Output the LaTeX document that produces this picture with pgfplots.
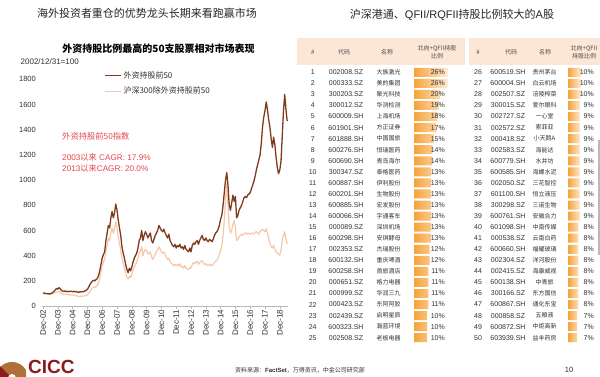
\documentclass[border=0pt]{standalone}
\usepackage{pgfplots}
\pgfplotsset{compat=1.18}
\usepackage{fontspec}
\setmainfont{Liberation Sans}
\newfontfamily\cjk{Noto Sans CJK SC}
\definecolor{darkbrown}{RGB}{128,58,28}
\definecolor{lightpeach}{RGB}{245,200,172}
\definecolor{annot}{RGB}{228,72,78}
\definecolor{hdr}{RGB}{252,230,214}
\definecolor{barL}{RGB}{245,163,58}
\definecolor{barR}{RGB}{255,238,215}
\definecolor{txt}{RGB}{50,50,50}
\definecolor{cicc}{RGB}{140,26,30}
\definecolor{ciccgold}{RGB}{176,112,58}
\begin{document}
\begin{tikzpicture}[x=1pt,y=-1pt]
\useasboundingbox (0,0) rectangle (600,376);
\clip (0,0) rectangle (600,376);
\fill[white] (0,0) rectangle (600,376);
% titles
\node[font=\cjk\fontsize{11}{13}\selectfont, text=black!85] at (147,13.5) {海外投资者重仓的优势龙头长期来看跑赢市场};
\node[font=\fontsize{11}{13}\selectfont, text=black!85] at (452,15) {{\cjk 沪深港通、}QFII/RQFII{\cjk 持股比例较大的}A{\cjk 股}};
\node[font=\cjk\bfseries\fontsize{10}{12}\selectfont, text=black] at (158.5,48.5) {外资持股比例最高的50支股票相对市场表现};
\node[anchor=west, font=\fontsize{8}{9}\selectfont, text=txt, inner sep=0pt] at (20.5,62) {2002/12/31=100};
% annotation
\node[anchor=west, text=annot, font=\cjk\fontsize{8.3}{10}\selectfont, inner sep=0pt] at (62,136) {外资持股前50指数};
\node[anchor=west, text=annot, font=\fontsize{8.2}{10}\selectfont, inner sep=0pt] at (62,157) {2003{\cjk 以来} CAGR: 17.9\%};
\node[anchor=west, text=annot, font=\fontsize{8.2}{10}\selectfont, inner sep=0pt] at (62,168) {2013{\cjk 以来}CAGR: 20.0\%};
% line chart
\begin{axis}[
  at={(41.8pt,-306pt)}, anchor=south west,
  scale only axis, width=246pt, height=226.7pt,
  xmin=-1, xmax=198.5, ymin=0, ymax=1800,
  axis lines*=left,
  y axis line style={draw=none},
  x axis line style={draw=gray!55},
  ytick={0,200,...,1800},
  ytick style={draw=none},
  xtick={0,12,...,192},
  xticklabels={Dec-02,Dec-03,Dec-04,Dec-05,Dec-06,Dec-07,Dec-08,Dec-09,Dec-10,Dec-11,Dec-12,Dec-13,Dec-14,Dec-15,Dec-16,Dec-17,Dec-18},
  xtick style={draw=gray!55, thin},
  tick align=outside, major tick length=2.5pt,
  /pgf/number format/assume math mode=true,
  /pgf/number format/1000 sep={},
  yticklabel style={font=\fontsize{7.5}{9}\selectfont, text=txt},
  xticklabel style={rotate=90, anchor=east, font=\fontsize{8}{9}\selectfont, text=txt, inner sep=1pt},
  legend style={at={(0.253,1.045)}, anchor=north west, draw=none, fill=none, font=\cjk\fontsize{8}{9}\selectfont, row sep=3.5pt, inner sep=0pt, cells={anchor=west, text=txt}},
  legend image code/.code={\draw[#1] (0pt,0pt) -- (16pt,0pt);},
  clip=false,
]
\addplot[lightpeach, line width=1.2pt, line join=round, forget plot] coordinates {
(0,100) (1,99) (2,97) (3,95) (4,97) (5,94) (6,92) (7,95) (8,98) (9,104) (10,108) (11,112) (12,110) (13,115) (14,108) (15,100) (16,96) (17,92) (18,95) (19,90) (20,92) (21,88) (22,90) (23,87) (24,85) (25,88) (26,84) (27,82) (28,78) (29,75) (30,78) (31,76) (32,80) (33,78) (34,82) (35,85) (36,90) (37,100) (38,115) (39,130) (40,145) (41,150) (42,148) (43,155) (44,165) (45,185) (46,220) (47,270) (48,320) (49,350) (50,370) (51,440) (52,480) (53,540) (54,520) (55,580) (56,620) (57,580) (58,610) (59,670) (60,620) (61,550) (62,500) (63,440) (64,380) (65,340) (66,300) (67,260) (68,230) (69,215) (70,235) (71,225) (72,255) (73,290) (74,310) (75,330) (76,350) (77,380) (78,420) (79,440) (80,470) (81,400) (82,430) (83,450) (84,440) (85,410) (86,425) (87,430) (88,390) (89,370) (90,390) (91,410) (92,430) (93,450) (94,470) (95,450) (96,430) (97,420) (98,430) (99,410) (100,390) (101,370) (102,380) (103,350) (104,340) (105,330) (106,320) (107,330) (108,320) (109,330) (110,320) (111,335) (112,310) (113,315) (114,300) (115,320) (116,300) (117,295) (118,290) (119,305) (120,300) (121,330) (122,345) (123,335) (124,350) (125,355) (126,330) (127,345) (128,355) (129,360) (130,340) (131,330) (132,335) (133,325) (134,320) (135,330) (136,325) (137,320) (138,330) (139,345) (140,355) (141,365) (142,380) (143,410) (144,440) (145,480) (146,560) (147,680) (148,850) (149,970) (150,800) (151,620) (152,580) (153,600) (154,650) (155,680) (156,620) (157,520) (158,530) (159,550) (160,560) (161,570) (162,560) (163,575) (164,580) (165,570) (166,580) (167,575) (168,570) (169,580) (170,575) (171,570) (172,585) (173,590) (174,580) (175,570) (176,590) (177,600) (178,610) (179,600) (180,590) (181,615) (182,580) (183,540) (184,500) (185,470) (186,460) (187,480) (188,450) (189,430) (190,420) (191,410) (192,405) (193,440) (194,520) (195,560) (196,590) (197,530) (198,495)
};
\addplot[darkbrown, line width=1.3pt, line join=round] coordinates {
(0,100) (1,103) (2,101) (3,97) (4,99) (5,96) (6,98) (7,102) (8,108) (9,118) (10,128) (11,140) (12,134) (13,146) (14,136) (15,124) (16,118) (17,116) (18,120) (19,113) (20,117) (21,114) (22,118) (23,116) (24,112) (25,118) (26,113) (27,116) (28,110) (29,108) (30,114) (31,111) (32,116) (33,113) (34,119) (35,125) (36,132) (37,150) (38,170) (39,185) (40,198) (41,205) (42,200) (43,210) (44,218) (45,240) (46,280) (47,330) (48,380) (49,410) (50,430) (51,520) (52,580) (53,640) (54,620) (55,700) (56,750) (57,700) (58,740) (59,810) (60,760) (61,680) (62,620) (63,560) (64,470) (65,420) (66,380) (67,330) (68,290) (69,265) (70,300) (71,280) (72,310) (73,350) (74,380) (75,400) (76,420) (77,460) (78,520) (79,540) (80,600) (81,520) (82,560) (83,590) (84,570) (85,540) (86,560) (87,580) (88,520) (89,500) (90,530) (91,560) (92,580) (93,600) (94,640) (95,620) (96,600) (97,590) (98,610) (99,580) (100,560) (101,540) (102,570) (103,520) (104,500) (105,480) (106,470) (107,490) (108,460) (109,480) (110,470) (111,490) (112,460) (113,470) (114,450) (115,480) (116,450) (117,440) (118,430) (119,460) (120,430) (121,480) (122,500) (123,490) (124,510) (125,520) (126,490) (127,520) (128,540) (129,560) (130,530) (131,520) (132,540) (133,520) (134,510) (135,530) (136,520) (137,510) (138,530) (139,560) (140,580) (141,590) (142,610) (143,640) (144,690) (145,720) (146,800) (147,900) (148,1000) (149,1060) (150,960) (151,800) (152,760) (153,820) (154,880) (155,830) (156,870) (157,700) (158,720) (159,760) (160,780) (161,800) (162,830) (163,860) (164,870) (165,860) (166,880) (167,890) (168,900) (169,930) (170,960) (171,990) (172,1030) (173,1080) (174,1120) (175,1160) (176,1200) (177,1290) (178,1420) (179,1500) (180,1550) (181,1620) (182,1560) (183,1480) (184,1420) (185,1330) (186,1260) (187,1340) (188,1280) (189,1180) (190,1100) (191,1050) (192,1080) (193,1150) (194,1350) (195,1550) (196,1680) (197,1560) (198,1470)
};
\addlegendimage{lightpeach, line width=1pt}
\legend{外资持股前50, 沪深300除外资持股前50}
\end{axis}
% table headers
\fill[hdr] (297,38) rectangle (465,65);
\fill[hdr] (469,38) rectangle (600,65);
\begin{scope}[every node/.style={font=\cjk\fontsize{6}{8}\selectfont, text=black!70, inner sep=0pt}]
\node at (312.7,52.5) {\#};
\node at (344,52.5) {代码};
\node at (387,52.5) {名称};
\node[align=center] at (437,52) {北向+QFII持股\\比例};
\node at (478,52.5) {\#};
\node at (511,52.5) {代码};
\node at (545,52.5) {名称};
\node[align=center] at (584,52) {北向+QFII\\持股比例};
\end{scope}
% bars
\begin{axis}[at={(414pt,-66.77pt)}, anchor=north west, scale only axis, width=39.3pt, height=276.5pt,
  xmin=0, xmax=30, ymin=0.5, ymax=25.5, y dir=reverse, hide axis, clip=false]
\addplot[xbar, bar width=9pt, bar shift=0pt, draw=none, left color=barL, right color=barR] coordinates {
(26,1) (26,2) (20,3) (19,4) (18,5) (17,6) (15,7) (14,8) (14,9) (13,10) (13,11) (13,12) (13,13) (13,14) (13,15) (13,16) (12,17) (12,18) (11,19) (11,20) (11,21) (11,22) (10,23) (10,24) (10,25)};
\end{axis}
\begin{axis}[at={(568pt,-66.77pt)}, anchor=north west, scale only axis, width=39.3pt, height=276.5pt,
  xmin=0, xmax=30, ymin=0.5, ymax=25.5, y dir=reverse, hide axis, clip=false]
\addplot[xbar, bar width=9pt, bar shift=0pt, draw=none, left color=barL, right color=barR] coordinates {
(10,1) (10,2) (10,3) (9,4) (9,5) (9,6) (9,7) (9,8) (9,9) (9,10) (9,11) (9,12) (9,13) (9,14) (8,15) (8,16) (8,17) (8,18) (8,19) (8,20) (8,21) (8,22) (7,23) (7,24) (7,25)};
\end{axis}
% table text
\begin{scope}[every node/.style={font=\fontsize{7}{8}\selectfont, text=txt, inner sep=0pt}]
\foreach \i/\cd/\nm/\pc in {1/002008.SZ/大族激光/26, 2/000333.SZ/美的集团/26, 3/300203.SZ/聚光科技/20, 4/300012.SZ/华测检测/19, 5/600009.SH/上海机场/18, 6/601901.SH/方正证券/17, 7/601888.SH/中国国旅/15, 8/600276.SH/恒瑞医药/14, 9/600690.SH/青岛海尔/14, 10/300347.SZ/泰格医药/13, 11/600887.SH/伊利股份/13, 12/600201.SH/生物股份/13, 13/600885.SH/宏发股份/13, 14/600066.SH/宇通客车/13, 15/000089.SZ/深圳机场/13, 16/600298.SH/安琪酵母/13, 17/002353.SZ/杰瑞股份/12, 18/600132.SH/重庆啤酒/12, 19/600258.SH/首旅酒店/11, 20/000651.SZ/格力电器/11, 21/000999.SZ/华润三九/11, 22/000423.SZ/东阿阿胶/11, 23/002439.SZ/启明星辰/10, 24/600323.SH/瀚蓝环境/10, 25/002508.SZ/老板电器/10}{
  \pgfmathsetmacro{\yy}{72.3+(\i-1)*11.06}
  \node at (312.7,\yy) {\i};
  \node at (346,\yy) {\cd};
  \node[font=\cjk\fontsize{6}{7}\selectfont] at (388.5,\yy) {\nm};
  \node[anchor=east] at (445,\yy) {\pc\%};
}
\foreach \i/\cd/\nm/\pc in {26/600519.SH/贵州茅台/10, 27/600004.SH/白云机场/10, 28/002507.SZ/涪陵榨菜/10, 29/300015.SZ/爱尔眼科/9, 30/002727.SZ/一心堂/9, 31/002572.SZ/索菲亚/9, 32/000418.SZ/小天鹅A/9, 33/002583.SZ/海能达/9, 34/600779.SH/水井坊/9, 35/600585.SH/海螺水泥/9, 36/002050.SZ/三花智控/9, 37/601100.SH/恒立液压/9, 38/300298.SZ/三诺生物/9, 39/600761.SH/安徽合力/9, 40/601098.SH/中南传媒/8, 41/000538.SZ/云南白药/8, 42/600660.SH/福耀玻璃/8, 43/002304.SZ/洋河股份/8, 44/002415.SZ/海康威视/8, 45/600138.SH/中青旅/8, 46/300166.SZ/东方国信/8, 47/600867.SH/通化东宝/8, 48/000858.SZ/五粮液/7, 49/600872.SH/中炬高新/7, 50/603939.SH/益丰药房/7}{
  \pgfmathsetmacro{\yy}{72.3+(\i-26)*11.06}
  \node at (478,\yy) {\i};
  \node at (508,\yy) {\cd};
  \node[font=\cjk\fontsize{6}{7}\selectfont] at (544.5,\yy) {\nm};
  \node[anchor=east] at (594,\yy) {\pc\%};
}
\end{scope}
\fill[gray!55] (597.8,140) rectangle (600,255);
% footer
\node[font=\cjk\fontsize{6}{7}\selectfont, text=txt] at (300,370.5) {资料来源：{\rmfamily\bfseries FactSet}，万得资讯，中金公司研究部};
\node[font=\fontsize{7.5}{9}\selectfont, text=txt] at (569,370) {10};
\node[anchor=west, font=\bfseries\fontsize{19}{20}\selectfont, text=cicc, inner sep=0pt] at (28,366.5) {CICC};
\begin{scope}
\clip (0,356) rectangle (26,376);
\fill[ciccgold] (12,378) circle (16pt);
\fill[cicc] (-6,360) -- (12,378) -- (-6,378) -- cycle;
\fill[white] (12,378) circle (4pt);
\end{scope}
\end{tikzpicture}
\end{document}
